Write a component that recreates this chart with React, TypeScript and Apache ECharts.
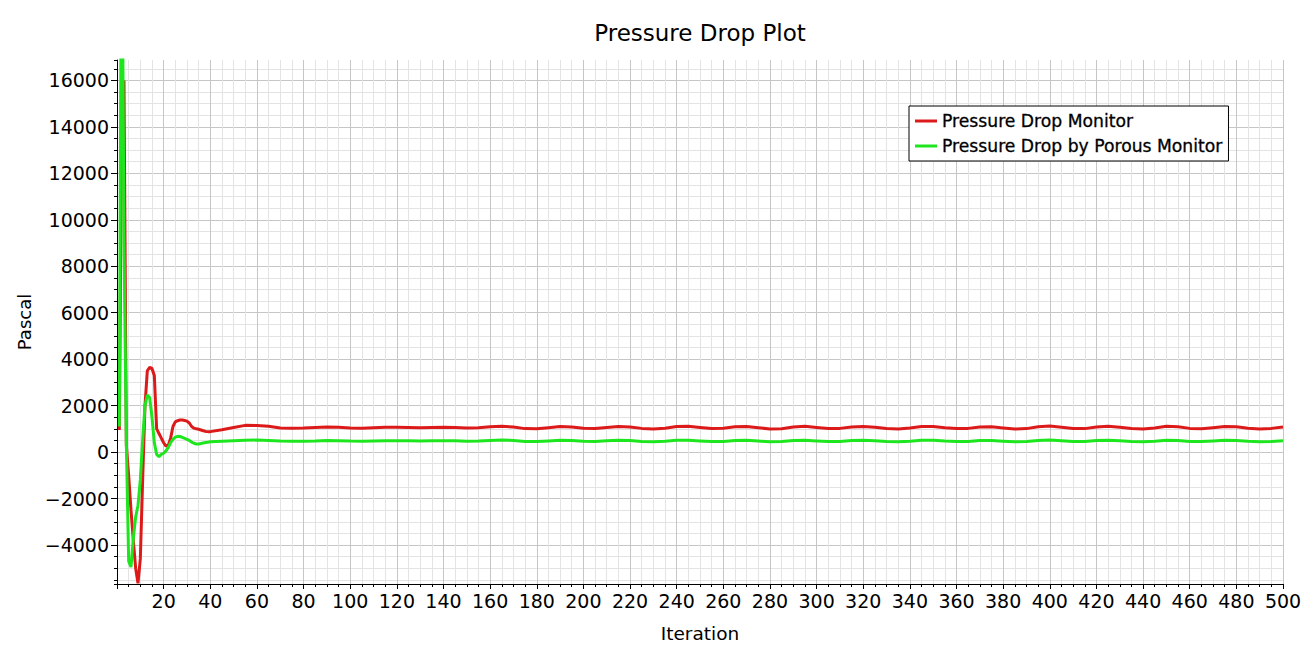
import React, { useEffect, useRef } from "react";
import * as echarts from "echarts";

const FONT = "'DejaVu Sans', Verdana, sans-serif";

// Iteration numbers at which values were read
const iterations = [
  1, 2, 3, 4, 5, 6, 7, 8, 9, 10, 11, 12, 13, 14, 15, 16, 17, 18, 19, 20,
  21, 22, 23, 24, 25, 26, 27, 28, 29, 30, 31, 32, 33, 34, 35, 36, 37, 38, 39, 40,
  45, 50, 55, 60, 65, 70, 75, 80, 85, 90, 95, 100, 105, 110, 115, 120, 125, 130,
  135, 140, 145, 150, 155, 160, 165, 170, 175, 180, 185, 190, 195, 200, 205, 210,
  215, 220, 225, 230, 235, 240, 245, 250, 255, 260, 265, 270, 275, 280, 285, 290,
  295, 300, 305, 310, 315, 320, 325, 330, 335, 340, 345, 350, 355, 360, 365, 370,
  375, 380, 385, 390, 395, 400, 405, 410, 415, 420, 425, 430, 435, 440, 445, 450,
  455, 460, 465, 470, 475, 480, 485, 490, 495, 500,
];

// Pressure Drop Monitor (Pa)
const pressureDropMonitor = [
  950, 14000, 16000, 300, -1000, -2500, -3800, -5000, -5650, -4600,
  -1200, 2000, 3500, 3650, 3600, 3300, 1000, 800, 600, 400,
  250, 300, 600, 1100, 1300, 1350, 1380, 1380, 1360, 1330,
  1250, 1100, 1030, 1000, 980, 950, 920, 890, 880, 880,
  960, 1060, 1150, 1140, 1110, 1040, 1030, 1040, 1060, 1080, 1070, 1040, 1030, 1050,
  1070, 1070, 1060, 1050, 1060, 1070, 1060, 1040, 1050, 1090, 1110, 1080, 1010, 1000,
  1050, 1100, 1080, 1030, 1010, 1060, 1100, 1080, 1020, 990, 1030, 1100, 1110, 1060,
  1010, 1030, 1090, 1100, 1050, 990, 1000, 1080, 1110, 1060, 1010, 1020, 1080, 1100,
  1070, 1010, 990, 1040, 1100, 1100, 1050, 1010, 1020, 1080, 1090, 1040, 990, 1010,
  1090, 1120, 1070, 1010, 1010, 1080, 1110, 1070, 1010, 990, 1040, 1110, 1090, 1020,
  1000, 1050, 1100, 1090, 1030, 990, 1020, 1080,
];

// Pressure Drop by Porous Monitor (Pa)
const porousMonitor = [
  1100, 26000, 9000, 400, -4700, -4950, -3700, -2800, -2300, -1200,
  500, 2000, 2450, 2350, 1500, 400, -100, -200, -100, -50,
  50, 200, 400, 550, 640, 680, 670, 630, 590, 550,
  500, 430, 380, 350, 350, 370, 390, 410, 425, 440,
  470, 490, 510, 515, 500, 480, 470, 470, 480, 495, 490, 475, 470, 480,
  490, 490, 485, 480, 485, 490, 485, 470, 475, 500, 515, 500, 460, 450,
  480, 510, 500, 465, 455, 485, 510, 500, 460, 440, 465, 505, 510, 480,
  450, 460, 500, 505, 475, 440, 450, 495, 510, 480, 450, 460, 495, 505,
  485, 450, 440, 470, 505, 505, 475, 450, 460, 495, 500, 470, 440, 455,
  500, 515, 485, 450, 455, 495, 510, 485, 450, 440, 470, 510, 500, 460,
  450, 480, 505, 500, 465, 440, 460, 490,
];

const seriesNames = ["Pressure Drop Monitor", "Pressure Drop by Porous Monitor"];
const seriesColors = ["#dd1a1a", "#1ee61e"];

const X_MIN = 0;
const X_MAX = 500;
const X_INTERVAL = 20;
const Y_MIN = -5680;
const Y_MAX = 16880;

const MAJOR_GRID = "#c6c6c6";
const MINOR_GRID = "#e3e3e3";

export default function App() {
  const ref = useRef<HTMLDivElement>(null);

  useEffect(() => {
    if (!ref.current) return;
    const chart = echarts.init(ref.current, undefined, { renderer: "svg" });

    const fmtY = (v: number) => {
      if (Math.abs(v % 2000) > 1e-6) return "";
      return v < 0 ? "\u2212" + String(-v) : String(v);
    };

    chart.setOption({
      animation: false,
      backgroundColor: "#ffffff",
      title: {
        text: "Pressure Drop Plot",
        left: 700,
        textAlign: "center",
        top: 21,
        padding: 0,
        textStyle: {
          fontFamily: FONT,
          fontSize: 23,
          fontWeight: "normal",
          color: "#000",
        },
      },
      legend: {
        data: seriesNames,
        left: 909,
        top: 106,
        orient: "vertical",
        selectedMode: false,
        backgroundColor: "#ffffff",
        borderColor: "#000",
        borderWidth: 1,
        borderRadius: 0,
        padding: [6, 6, 6, 6],
        itemWidth: 22,
        itemHeight: 3,
        itemGap: 7,
        itemTextGap: 2,
        icon: "rect",
        textStyle: {
          fontFamily: FONT,
          fontSize: 17.2,
          lineHeight: 18,
          color: "#000",
          textBorderColor: "#000",
          textBorderWidth: 0.3,
        },
      },
      grid: {
        left: 117,
        right: 33,
        top: 60,
        bottom: 75,
        containLabel: false,
      },
      xAxis: {
        type: "value",
        min: X_MIN,
        max: X_MAX,
        interval: X_INTERVAL,
        name: "Iteration",
        nameLocation: "middle",
        nameGap: 40,
        nameTextStyle: { fontFamily: FONT, fontSize: 18.5, color: "#000" },
        axisLine: { show: true, onZero: false, lineStyle: { color: "#000", width: 1 } },
        axisTick: { show: true, length: 5, lineStyle: { color: "#000" } },
        minorTick: { show: true, splitNumber: 4, length: 3, lineStyle: { color: "#000" } },
        axisLabel: {
          fontFamily: FONT,
          fontSize: 19,
          color: "#000",
          margin: 7,
          formatter: (v: number) => (v === 0 ? "" : String(v)),
        },
        splitLine: { show: true, lineStyle: { color: MAJOR_GRID, width: 1 } },
        minorSplitLine: { show: true, lineStyle: { color: MINOR_GRID, width: 1 } },
      },
      yAxis: [
        {
          // minor grid / minor ticks (every 500)
          type: "value",
          position: "left",
          min: Y_MIN,
          max: Y_MAX,
          splitNumber: 45,
          axisLine: { show: false },
          axisLabel: { show: false },
          axisTick: { show: true, length: 3, lineStyle: { color: "#000" } },
          splitLine: {
            show: true,
            showMinLine: false,
            showMaxLine: false,
            lineStyle: { color: MINOR_GRID, width: 1 },
          },
        },
        {
          // major grid / labels (every 2000)
          type: "value",
          position: "left",
          min: Y_MIN,
          max: Y_MAX,
          splitNumber: 11,
          name: "Pascal",
          nameLocation: "middle",
          nameGap: 82,
          nameTextStyle: { fontFamily: FONT, fontSize: 18, color: "#000" },
          axisLine: { show: true, onZero: false, lineStyle: { color: "#000", width: 1 } },
          axisTick: { show: true, length: 6, lineStyle: { color: "#000" } },
          axisLabel: {
            fontFamily: FONT,
            fontSize: 19,
            color: "#000",
            margin: 8,
            showMinLabel: false,
            showMaxLabel: false,
            formatter: fmtY,
          },
          splitLine: {
            show: true,
            showMinLine: false,
            showMaxLine: false,
            lineStyle: { color: MAJOR_GRID, width: 1 },
          },
        },
      ],
      series: [
        {
          name: seriesNames[0],
          type: "line",
          yAxisIndex: 1,
          color: seriesColors[0],
          showSymbol: false,
          symbol: "none",
          lineStyle: { color: seriesColors[0], width: 3 },
          data: iterations.map((it, i) => [it, pressureDropMonitor[i]]),
          z: 3,
        },
        {
          name: seriesNames[1],
          type: "line",
          yAxisIndex: 1,
          color: seriesColors[1],
          showSymbol: false,
          symbol: "none",
          lineStyle: { color: seriesColors[1], width: 3 },
          data: iterations.map((it, i) => [it, porousMonitor[i]]),
          z: 4,
        },
      ],
    });

    return () => {
      chart.dispose();
    };
  }, []);

  return (
    <div
      ref={ref}
      style={{ position: "fixed", left: 0, top: 0, width: 1316, height: 659, background: "#fff" }}
    />
  );
}
